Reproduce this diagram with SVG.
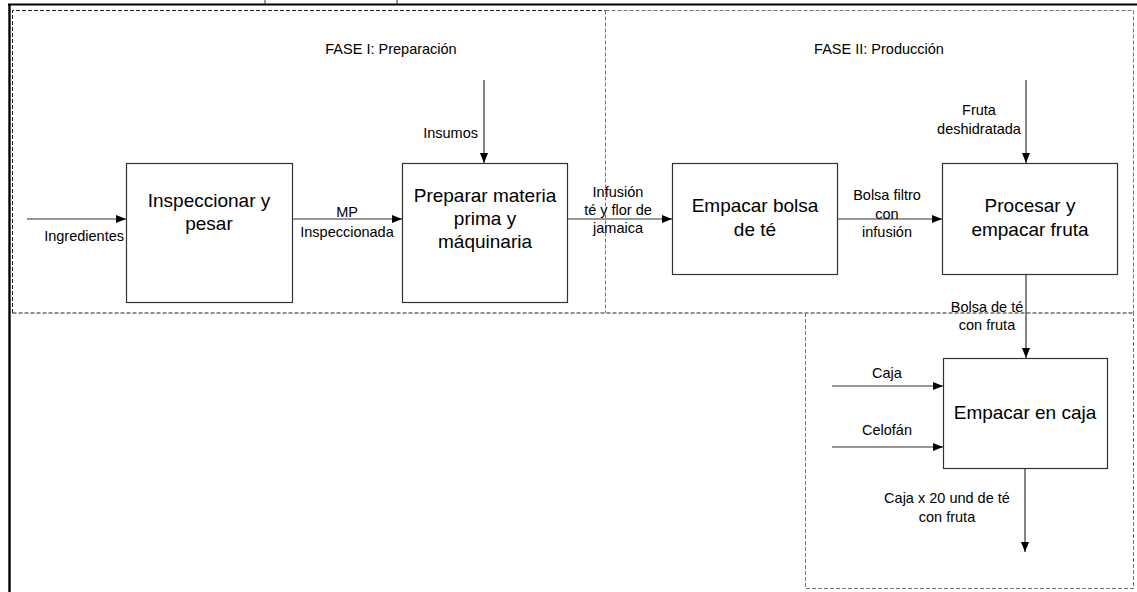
<svg xmlns="http://www.w3.org/2000/svg" width="1137" height="592" viewBox="0 0 1137 592">
<style>
.box{fill:#fff;stroke:#333;stroke-width:1.2}
.bl{font-family:"Liberation Sans",Arial,sans-serif;font-size:19px;fill:#000;text-anchor:middle}
.lb{font-family:"Liberation Sans",Arial,sans-serif;font-size:14.5px;fill:#000;text-anchor:middle}
.ar{stroke:#333;stroke-width:1.2;fill:none;marker-end:url(#ah)}
.dash{stroke:#222;stroke-width:1;fill:none;stroke-dasharray:4,2}
.dashg{stroke:#777;stroke-width:1;fill:none;stroke-dasharray:4,2}
</style>
<defs>
<marker id="ah" viewBox="0 0 10 10" refX="10" refY="5" markerWidth="10" markerHeight="10" markerUnits="userSpaceOnUse" orient="auto">
<path d="M0,1 L10,5 L0,9 Z" fill="#000"/>
</marker>
</defs>
<rect width="1137" height="592" fill="#fff"/>
<g id="frame">
<line x1="8" y1="4.5" x2="1137" y2="4.5" stroke="#000" stroke-width="2.2"/>
<line x1="9.5" y1="4" x2="9.5" y2="592" stroke="#000" stroke-width="2.4"/>
<line x1="265" y1="0" x2="265" y2="4" stroke="#333" stroke-width="1"/>
<line x1="397" y1="0" x2="397" y2="4" stroke="#333" stroke-width="1"/>
</g>
<g id="phases">
<path class="dash" d="M12.5,313 V10.5 H605.5"/>
<path class="dashg" d="M605.5,10.5 V313"/>
<path class="dashg" d="M605.5,10.5 H1133.5 V313"/>
<path class="dash" d="M12.5,313 H1133.5"/>
<path class="dashg" d="M805.5,313 V588.5 H1133.5 V313"/>
<text class="lb" x="391" y="54">FASE I: Preparación</text>
<text class="lb" x="879" y="54">FASE II: Producción</text>
</g>
<g id="connectors">
<line class="ar" x1="27" y1="219" x2="126" y2="219"/>
<line class="ar" x1="292" y1="219" x2="402" y2="219"/>
<line class="ar" x1="484" y1="80" x2="484" y2="163"/>
<line class="ar" x1="567" y1="219" x2="672" y2="219"/>
<line class="ar" x1="837" y1="219" x2="942" y2="219"/>
<line class="ar" x1="1026" y1="80" x2="1026" y2="163"/>
<line class="ar" x1="1026" y1="275" x2="1026" y2="358"/>
<line class="ar" x1="832" y1="386" x2="943" y2="386"/>
<line class="ar" x1="832" y1="447" x2="943" y2="447"/>
<line class="ar" x1="1025" y1="468" x2="1025" y2="552"/>
<text class="lb" x="124" y="241" style="text-anchor:end">Ingredientes</text>
<text class="lb" x="347" y="217">MP</text>
<text class="lb" x="347" y="237">Inspeccionada</text>
<text class="lb" x="478" y="138" style="text-anchor:end">Insumos</text>
<text class="lb" x="618" y="197">Infusión</text>
<text class="lb" x="618" y="215">té y flor de</text>
<text class="lb" x="618" y="233">jamaica</text>
<text class="lb" x="887" y="200">Bolsa filtro</text>
<text class="lb" x="887" y="219">con</text>
<text class="lb" x="887" y="237">infusión</text>
<text class="lb" x="979" y="115">Fruta</text>
<text class="lb" x="979" y="134">deshidratada</text>
<text class="lb" x="987" y="312">Bolsa de té</text>
<text class="lb" x="987" y="330">con fruta</text>
<text class="lb" x="887" y="378">Caja</text>
<text class="lb" x="887" y="435">Celofán</text>
<text class="lb" x="947" y="503">Caja x 20 und de té</text>
<text class="lb" x="947" y="522">con fruta</text>
</g>
<g id="n1">
<rect class="box" x="126.5" y="163.5" width="166" height="139"/>
<text class="bl" x="209" y="207">Inspeccionar y</text>
<text class="bl" x="209" y="230">pesar</text>
</g>
<g id="n2">
<rect class="box" x="402.5" y="163.5" width="165" height="139"/>
<text class="bl" x="485" y="202">Preparar materia</text>
<text class="bl" x="485" y="225">prima y</text>
<text class="bl" x="485" y="248">máquinaria</text>
</g>
<g id="n3">
<rect class="box" x="672.5" y="163.5" width="165" height="111"/>
<text class="bl" x="755" y="212">Empacar bolsa</text>
<text class="bl" x="755" y="236">de té</text>
</g>
<g id="n4">
<rect class="box" x="942.5" y="163.5" width="175" height="111"/>
<text class="bl" x="1030" y="212">Procesar y</text>
<text class="bl" x="1030" y="236">empacar fruta</text>
</g>
<g id="n5">
<rect class="box" x="943.5" y="358.5" width="164" height="110"/>
<text class="bl" x="1025" y="419">Empacar en caja</text>
</g>
</svg>
